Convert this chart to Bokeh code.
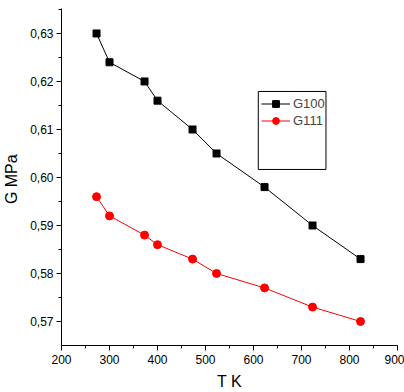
from bokeh.plotting import figure
from bokeh.models import (Range1d, FixedTicker, CustomJSTickFormatter, Legend, LegendItem,
                          BoxAnnotation)
from bokeh.embed import file_html
from bokeh.resources import INLINE

# Data
T = [273, 300, 373, 400, 473, 523, 623, 723, 823]
G100 = [0.630, 0.624, 0.620, 0.616, 0.610, 0.605, 0.598, 0.590, 0.583]
G111 = [0.596, 0.592, 0.588, 0.586, 0.583, 0.580, 0.577, 0.573, 0.570]
x_ticks = [200, 300, 400, 500, 600, 700, 800, 900]
y_ticks = [0.57, 0.58, 0.59, 0.60, 0.61, 0.62, 0.63]

FONT = "Liberation Sans"

p = figure(width=404, height=392, output_backend="svg", toolbar_location=None,
           x_range=Range1d(200, 900), y_range=Range1d(0.565, 0.6352),
           min_border_left=61, min_border_right=7, min_border_top=8, min_border_bottom=47)
p.outline_line_color = None
p.xgrid.visible = False
p.ygrid.visible = False
p.background_fill_color = "white"
p.border_fill_color = "white"

l1 = p.line(T, G100, line_color="black", line_width=1)
s1 = p.scatter(T, G100, marker="square", size=7, fill_color="black", line_color="black")
l2 = p.line(T, G111, line_color="red", line_width=1)
s2 = p.scatter(T, G111, marker="circle", size=8, fill_color="red", line_color="red")

for ax in (p.xaxis[0], p.yaxis[0]):
    ax.axis_line_color = "black"
    ax.major_tick_line_color = "black"
    ax.minor_tick_line_color = "black"
    ax.major_tick_out = 5
    ax.major_tick_in = 0
    ax.minor_tick_out = 3
    ax.minor_tick_in = 0
    ax.major_label_text_font = FONT
    ax.major_label_text_font_size = "12px"
    ax.major_label_text_color = "black"
    ax.axis_label_text_font = FONT
    ax.axis_label_text_font_size = "16px"
    ax.axis_label_text_font_style = "normal"
    ax.axis_label_text_color = "black"

p.xaxis.ticker = FixedTicker(ticks=x_ticks, minor_ticks=[t + 50 for t in x_ticks[:-1]])
p.yaxis.ticker = FixedTicker(ticks=y_ticks, minor_ticks=[round(t + 0.005, 3) for t in y_ticks])
p.yaxis.formatter = CustomJSTickFormatter(code="return tick.toFixed(2).replace('.', ',');")
p.xaxis.axis_label = "T K"
p.yaxis.axis_label = "G  MPa"
p.xaxis.major_label_standoff = 4
p.yaxis.major_label_standoff = 3
p.xaxis.axis_label_standoff = 6
p.yaxis.axis_label_standoff = 7

box = BoxAnnotation(left=610, right=751, top=0.61792, bottom=0.60167,
                    fill_color=None, fill_alpha=0, line_color="black", line_alpha=1,
                    line_width=1)
p.add_layout(box)

legend = Legend(items=[LegendItem(label="G100", renderers=[l1, s1]),
                       LegendItem(label="G111", renderers=[l2, s2])],
                location=(200, 216), padding=0, margin=0, spacing=0,
                label_height=17, glyph_height=17, glyph_width=29, label_standoff=3,
                border_line_color=None, background_fill_alpha=0,
                label_text_font=FONT, label_text_font_size="13px")
p.add_layout(legend)

open("out.html", "w").write(file_html(p, INLINE))
